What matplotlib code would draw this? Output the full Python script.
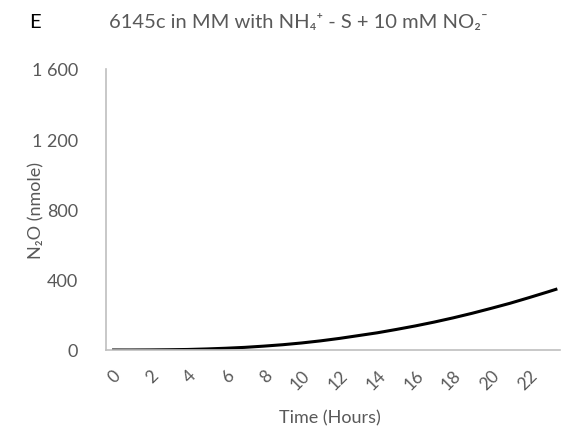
import matplotlib
matplotlib.use("Agg")
import matplotlib.pyplot as plt

hours = [0, 1, 2, 3, 4, 5, 6, 7, 8, 9, 10, 11, 12, 13, 14, 15, 16, 17, 18, 19, 20, 21, 22, 23, 23.5]
n2o = [0, 0, 0.5, 1.5, 3, 6, 10, 15, 22, 30, 40, 52, 66, 82, 98, 117, 137, 159, 183, 209, 237, 266, 298, 331, 348]
xticks = list(range(0, 23, 2))
yticks = [0, 400, 800, 1200, 1600]
ytick_labels = ["0", "400", "800", "1 200", "1 600"]

plt.rcParams['font.family'] = ['Lato', 'DejaVu Sans']
gray = '#595959'

fig = plt.figure(figsize=(5.64, 4.35), dpi=100)
ax = fig.add_axes([106/564, 1-351/435, (560-106)/564, (351-70)/435])

ax.plot(hours, n2o, color='black', lw=2.2, solid_capstyle='butt')

ax.set_xlim(-0.32, 23.64)
ax.set_ylim(0, 1600)
ax.set_yticks(yticks)
ax.set_yticklabels(ytick_labels, color=gray, fontsize=13)
ax.set_xticks(xticks)
ax.set_xticklabels([str(t) for t in xticks], color=gray, fontsize=12.5,
                   rotation=45, ha='right', va='top', rotation_mode='anchor')
ax.tick_params(axis='both', length=0)
ax.tick_params(axis='y', pad=20)
ax.tick_params(axis='x', pad=12)

for s in ['top', 'right']:
    ax.spines[s].set_visible(False)
for s in ['left', 'bottom']:
    ax.spines[s].set_color('#bfbfbf')
    ax.spines[s].set_linewidth(1.2)

ax.set_xlabel('Time (Hours)', color=gray, fontsize=13)
ax.xaxis.set_label_coords((330-106)/(560-106), -(410-351)/(351-70))
ax.set_ylabel('N₂O (nmole)', color=gray, fontsize=13)
ax.yaxis.set_label_coords(-(106-44)/(560-106), 0.5)

fig.text(298/564, 1-22/435, '6145c in MM with NH₄⁺ - S + 10 mM NO₂⁻',
         color=gray, fontsize=14.5, ha='center', va='center')
fig.text(35/564, 1-22/435, 'E', color='black', fontsize=14.5, ha='center', va='center')

fig.savefig('out.png', dpi=100)
